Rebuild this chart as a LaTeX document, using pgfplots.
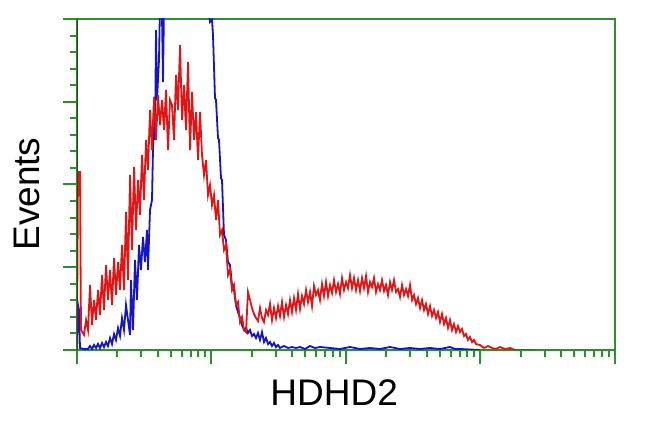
\documentclass[border=0pt]{standalone}
\usepackage{fontspec}
\setmainfont{Liberation Sans}
\usepackage{pgfplots}
\pgfplotsset{compat=1.18}
\definecolor{frame}{HTML}{2F8F2F}
\definecolor{redline}{HTML}{E01515}
\definecolor{blueline}{HTML}{1414C8}
\definecolor{leftspine}{HTML}{3F3A1C}

% channel (x) and event count (y) histograms
\pgfplotstableread{
ch cnt
0 2
1 45
2 40
3 2
7 1
11 1
13 4
15 1
17 5
19 2
21 6
23 2
25 7
27 3
29 8
31 4
33 12
35 6
37 16
39 10
41 22
43 14
45 32
47 20
49 45
51 30
53 15
54 70
56 20
58 90
60 50
62 105
64 80
66 113
68 88
70 120
71 80
73 140
75 150
76 200
77 238
78 210
79 320
80 250
82 290
84 400
86 268
88 420
90 440
98 470
113 480
128 420
130 355
133 328
135 330
136 315
138 252
139 250
141 212
142 210
144 172
145 170
147 115
149 110
151 88
153 85
155 65
157 60
159 45
161 38
163 32
165 25
167 20
169 22
171 17
173 20
175 14
177 16
179 12
181 17
183 10
185 18
187 8
189 12
191 6
193 8
195 4
197 7
199 3
201 5
203 2
207 4
211 2
215 3
219 2
223 3
228 1
233 4
238 2
243 3
253 2
263 1
273 3
283 1
293 2
303 1
313 3
323 1
333 2
343 1
353 2
363 1
373 3
378 1
383 1
403 0
}\blue

\pgfplotstableread{
ch cnt
0 10
1 178
3 178
4 20
7 15
9 30
11 20
13 65
15 25
17 50
19 30
21 60
23 35
25 75
27 40
29 85
31 50
33 80
35 45
37 92
39 55
41 88
43 60
45 105
47 60
49 138
51 70
53 175
55 100
57 183
59 120
61 170
63 135
65 195
67 150
69 210
71 180
73 240
75 200
77 253
79 210
81 255
83 225
85 250
87 220
89 260
91 200
93 250
95 245
97 210
99 275
101 240
103 305
105 230
107 265
109 220
111 288
113 200
115 258
117 210
119 238
121 190
123 238
125 195
127 175
129 190
131 155
133 165
135 145
137 155
139 130
141 150
143 115
145 120
147 100
149 105
151 75
153 80
155 60
157 65
159 45
161 48
163 28
165 33
167 20
169 18
171 58
173 50
175 42
177 36
179 32
181 29
183 42
185 32
187 28
189 40
191 35
193 46
195 30
197 42
199 32
201 44
203 34
205 48
207 33
209 45
211 36
213 50
215 38
217 52
219 40
221 56
223 41
225 54
227 46
229 60
231 48
233 58
235 44
237 64
239 55
241 60
243 50
245 66
247 54
249 68
251 54
253 65
255 57
257 70
259 58
261 66
263 56
265 72
267 60
269 68
271 62
273 75
275 62
277 72
279 60
281 70
283 59
285 72
287 62
289 74
291 58
293 68
295 63
297 72
299 58
301 66
303 60
305 70
307 59
309 65
311 55
313 68
315 60
317 70
319 58
321 61
323 53
325 65
327 55
329 61
331 54
333 65
335 50
337 55
339 46
341 52
343 42
345 50
347 40
349 46
351 36
353 44
355 34
357 40
359 32
361 38
363 28
365 36
367 26
369 32
371 22
373 30
375 20
377 26
379 18
381 24
383 18
385 21
387 14
389 16
391 10
393 13
395 8
397 10
399 6
403 5
407 2
411 4
415 2
419 1
423 3
428 1
433 2
438 0
448 0
458 0
}\red

\begin{document}
\begin{tikzpicture}
\begin{axis}[
  scale only axis, width=269pt, height=165.5pt,
  at={(0,0)}, anchor=south west,
  xmin=0, xmax=538, ymin=0, ymax=331,
  axis line style={draw=frame, line width=1.2pt},
  xtick={0,134.5,269,403.5,538},
  minor xtick={40.5,64.2,81.0,94.0,104.7,113.7,121.5,128.4,
    175.0,198.7,215.5,228.5,239.2,248.2,256.0,262.9,
    309.5,333.2,350.0,363.0,373.7,382.7,390.5,397.4,
    444.0,467.7,484.5,497.5,508.2,517.2,525.0,531.9},
  ytick={0,82.75,165.5,248.25,331},
  minor y tick num=4,
  xticklabels={}, yticklabels={},
  tick align=outside, xtick pos=bottom, ytick pos=left,
  major tick length=7pt, minor tick length=3.5pt,
  every tick/.style={draw=frame, line width=1pt},
  xlabel={HDHD2}, ylabel={Events},
  label style={font=\fontsize{18.5}{22}\selectfont},
  xlabel style={at={(axis description cs:0.478,-0.130)}, anchor=center},
  ylabel style={at={(axis description cs:-0.093,0.471)}, anchor=center, rotate=0},
]
  \addplot[blueline, line width=0.9pt, sharp plot] table[x=ch, y=cnt] {\blue};
  \addplot[redline, line width=0.9pt, sharp plot] table[x=ch, y=cnt] {\red};
  \draw[leftspine, line width=1.2pt] (rel axis cs:0,0) -- (rel axis cs:0,1);
\end{axis}
\pgfresetboundingbox
\path[use as bounding box] (-38.5pt,-41pt) rectangle (286.5pt,175pt);
\end{tikzpicture}
\end{document}
